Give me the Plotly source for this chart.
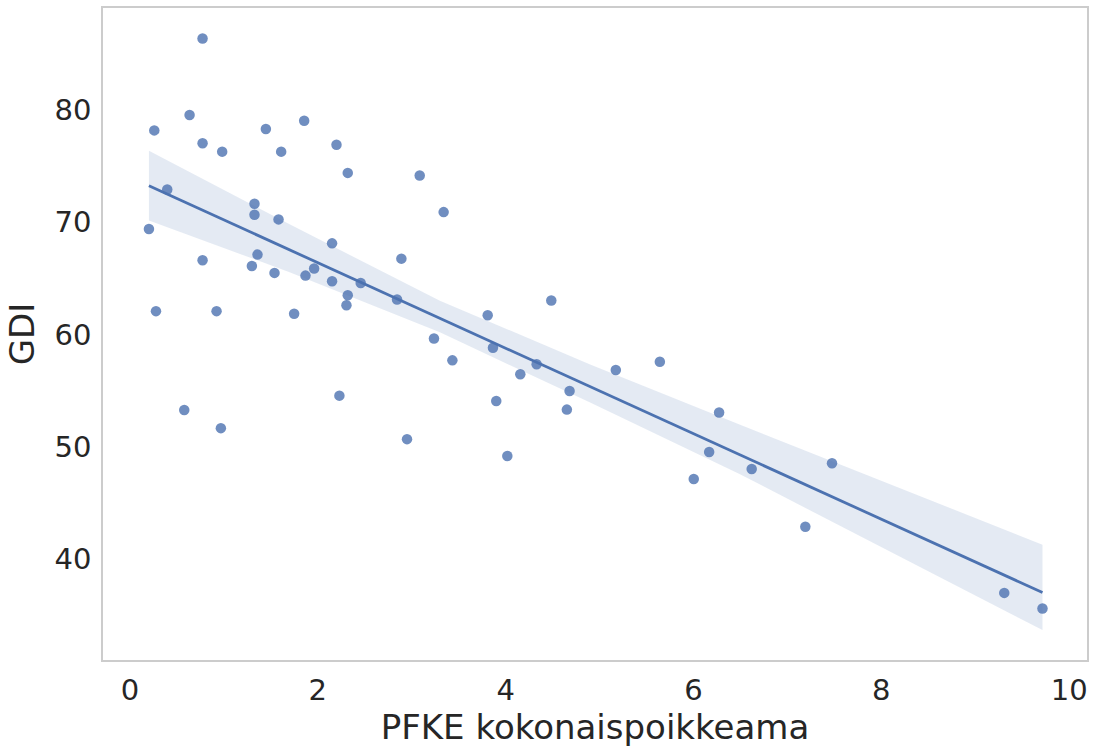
import numpy as np
import plotly.graph_objects as go

# PFKE total deviation vs. GDI
pfke = [0.773, 0.635, 0.259, 0.773, 0.982, 1.447, 1.855, 1.610, 2.199, 2.319,
        3.085, 3.340, 0.397, 0.202, 1.326, 1.326, 1.582, 2.152, 0.773, 1.358,
        1.298, 1.539, 1.961, 1.869, 2.152, 2.457, 2.890, 2.319, 2.305, 2.844,
        3.809, 0.277, 0.922, 1.748, 3.237, 0.578, 0.968, 2.230, 2.950, 3.433,
        3.865, 3.900, 4.486, 4.330, 4.156, 4.681, 4.652, 5.173, 5.642, 6.273,
        6.167, 6.620, 6.003, 4.018, 9.309, 9.716, 7.191, 7.475]
gdi = [86.33, 79.53, 78.16, 77.01, 76.27, 78.29, 79.02, 76.27, 76.89, 74.38,
       74.14, 70.89, 72.90, 69.38, 71.63, 70.66, 70.24, 68.11, 66.60, 67.11,
       66.10, 65.48, 65.87, 65.24, 64.74, 64.59, 66.75, 63.50, 62.61, 63.11,
       61.72, 62.08, 62.08, 61.84, 59.65, 53.29, 51.67, 54.56, 50.69, 57.70,
       58.82, 54.09, 63.03, 57.35, 56.46, 54.98, 53.32, 56.84, 57.58, 53.06,
       49.54, 48.03, 47.14, 49.19, 37.01, 35.62, 42.90, 48.54]

# Bootstrapped 95 % confidence band of the regression line
ci_x = [0.202, 1.7, 3.3, 4.9, 6.49, 8.1, 9.716]
ci_upper = [76.35, 69.80, 63.00, 57.34, 51.99, 46.65, 41.30]
ci_lower = [70.15, 65.54, 60.19, 53.94, 47.59, 40.65, 33.70]

x_ticks = [0, 2, 4, 6, 8, 10]
y_ticks = [40, 50, 60, 70, 80]

BLUE = "#4C72B0"

# Ordinary least squares regression line
x = np.array(pfke)
y = np.array(gdi)
slope, intercept = np.polyfit(x, y, 1)
grid = np.linspace(x.min(), x.max(), 100)
fit = intercept + slope * grid

fig = go.Figure()
fig.add_trace(go.Scatter(
    x=ci_x + ci_x[::-1],
    y=ci_upper + ci_lower[::-1],
    fill="toself", fillcolor="rgba(76,114,176,0.15)",
    line=dict(width=0), mode="lines", hoverinfo="skip", showlegend=False,
))
fig.add_trace(go.Scatter(
    x=pfke, y=gdi, mode="markers",
    marker=dict(size=10.5, color=BLUE, opacity=0.8, line=dict(width=0)),
    showlegend=False,
))
fig.add_trace(go.Scatter(
    x=grid, y=fit, mode="lines",
    line=dict(color=BLUE, width=2.8), showlegend=False,
))

fig.update_layout(
    width=1095, height=748,
    margin=dict(l=103, r=7, t=6, b=88),
    paper_bgcolor="white", plot_bgcolor="white",
    font=dict(family="DejaVu Sans", color="#262626"),
)
fig.update_xaxes(
    range=[-0.287, 10.19], tickvals=x_ticks, ticktext=[str(v) for v in x_ticks],
    showgrid=False, zeroline=False, showline=True, mirror=True,
    linecolor="#cccccc", linewidth=1.5,
    ticks="outside", ticklen=3, tickcolor="rgba(0,0,0,0)",
    tickfont=dict(size=29),
    title=dict(text="PFKE kokonaispoikkeama", font=dict(size=34), standoff=4),
)
fig.update_yaxes(
    range=[31.04, 89.05], tickvals=y_ticks, ticktext=[str(v) for v in y_ticks],
    showgrid=False, zeroline=False, showline=True, mirror=True,
    linecolor="#cccccc", linewidth=1.5,
    ticks="outside", ticklen=4, tickcolor="rgba(0,0,0,0)",
    tickfont=dict(size=29),
    title=dict(text="GDI", font=dict(size=34), standoff=10),
)

fig.write_html("out.html")
